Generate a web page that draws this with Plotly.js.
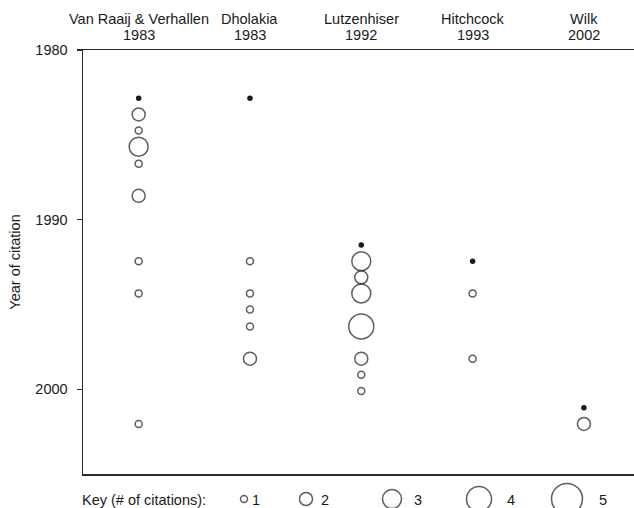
<!DOCTYPE html>
<html>
<head>
<meta charset="utf-8">
<script src="https://cdn.plot.ly/plotly-3.0.1.min.js"></script>
<style>html,body{margin:0;padding:0;background:#fff;}#chart{width:634px;height:508px;}</style>
</head>
<body>
<div id="chart"></div>
<script>
// ---- data ----
const studies = ["Van Raaij & Verhallen", "Dholakia", "Lutzenhiser", "Hitchcock", "Wilk"];
const pubYears = ["1983", "1983", "1992", "1993", "2002"];
// citation years and # of citations (0 = the study itself, filled dot)
const vanRaaijYears = [1982.85, 1983.8, 1984.75, 1985.7, 1986.7, 1988.6, 1992.45, 1994.35, 2002.05];
const vanRaaijCites = [0, 2, 1, 3, 1, 2, 1, 1, 1];
const dholakiaYears = [1982.85, 1992.45, 1994.35, 1995.3, 1996.3, 1998.2];
const dholakiaCites = [0, 1, 1, 1, 1, 2];
const lutzenhiserYears = [1991.5, 1992.45, 1993.4, 1994.35, 1996.3, 1998.2, 1999.15, 2000.1];
const lutzenhiserCites = [0, 3, 2, 3, 4, 2, 1, 1];
const hitchcockYears = [1992.45, 1994.35, 1998.2];
const hitchcockCites = [0, 1, 1];
const wilkYears = [2001.1, 2002.05];
const wilkCites = [0, 2];
const keyCounts = [1, 2, 3, 4, 5];
const yTicks = [1980, 1990, 2000];

// ---- styling ----
const INK = "#1a1a1a";
const FONT = {family: "Liberation Sans, Arial, sans-serif", size: 14.5, color: INK};
const diam = n => n === 0 ? 5.5 : 6 * n + 1;
const keyPx = [244, 306, 392, 479, 567];   // key layout positions (px)
const keyLabelPx = [250, 319, 412, 505, 597];

const series = [
  [vanRaaijYears, vanRaaijCites],
  [dholakiaYears, dholakiaCites],
  [lutzenhiserYears, lutzenhiserCites],
  [hitchcockYears, hitchcockCites],
  [wilkYears, wilkCites]
];

const openX = [], openY = [], openS = [], fillX = [], fillY = [];
series.forEach(([ys, cs], i) => {
  ys.forEach((y, j) => {
    if (cs[j] === 0) { fillX.push(i + 1); fillY.push(y); }
    else { openX.push(i + 1); openY.push(y); openS.push(diam(cs[j])); }
  });
});

const traces = [
  {type: "scatter", mode: "markers", x: openX, y: openY, hoverinfo: "skip",
   marker: {symbol: "circle-open", size: openS, color: INK, line: {width: 1.5, color: INK}}},
  {type: "scatter", mode: "markers", x: fillX, y: fillY, hoverinfo: "skip",
   marker: {symbol: "circle", size: 5.5, color: INK, line: {width: 0}}},
  {type: "scatter", mode: "markers", x: keyPx, y: keyCounts.map(() => 9),
   xaxis: "x2", yaxis: "y2", cliponaxis: false, hoverinfo: "skip",
   marker: {symbol: "circle-open", size: keyCounts.map(diam), color: INK, line: {width: 1.5, color: INK}}}
];

const PA = 458; // plot-area height in px (paper units)
const annotations = [];
studies.forEach((s, i) => {
  annotations.push({xref: "x", yref: "paper", x: i + 1, y: 1 + (50 - 18.5) / PA, text: s,
    showarrow: false, xanchor: "center", yanchor: "middle", font: FONT});
  annotations.push({xref: "x", yref: "paper", x: i + 1, y: 1 + (50 - 35) / PA, text: pubYears[i],
    showarrow: false, xanchor: "center", yanchor: "middle", font: FONT});
});
keyCounts.forEach((c, i) => annotations.push({
  xref: "x2", yref: "y2", x: keyLabelPx[i], y: 8, text: String(c),
  showarrow: false, xanchor: "left", yanchor: "middle", font: FONT
}));
annotations.push({xref: "paper", yref: "y2", x: -3 / 551, y: 8, text: "Key (# of citations):",
  showarrow: false, xanchor: "left", yanchor: "middle", font: FONT});

const layout = {
  width: 634, height: 508,
  margin: {l: 83, r: 0, t: 50, b: 0},
  paper_bgcolor: "#fff", plot_bgcolor: "#fff",
  showlegend: false,
  font: FONT,
  xaxis: {
    domain: [0, 1], range: [0.5, 5.45], side: "top",
    showticklabels: false, ticks: "", showgrid: false, zeroline: false,
    showline: true, mirror: true, linecolor: "#2a2a2a", linewidth: 1.5
  },
  yaxis: {
    domain: [34 / PA, 1], range: [2005, 1980],
    tickvals: yTicks, ticktext: yTicks.map(String),
    ticks: "outside", ticklen: 5, tickwidth: 1.2, tickcolor: "#2a2a2a",
    showgrid: false, zeroline: false, showline: true, linecolor: "#2a2a2a", linewidth: 1.5,
    ticklabelstandoff: 6, tickfont: FONT,
    title: {text: "Year of citation", font: FONT, standoff: 11}
  },
  xaxis2: {domain: [0, 1], range: [83, 634], anchor: "y2", visible: false, fixedrange: true},
  yaxis2: {domain: [0, 32 / PA], range: [0, 32], anchor: "x2", visible: false, fixedrange: true},
  annotations: annotations
};

Plotly.newPlot("chart", traces, layout, {staticPlot: true, displayModeBar: false});
</script>
</body>
</html>
